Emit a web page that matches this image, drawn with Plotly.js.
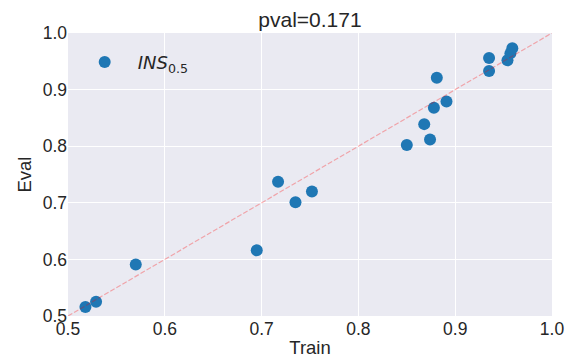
<!DOCTYPE html>
<html>
<head>
<meta charset="utf-8">
<script src="https://cdn.plot.ly/plotly-3.0.1.min.js"></script>
<style>html,body{margin:0;padding:0;background:#fff;}#chart{width:574px;height:358px;}</style>
</head>
<body>
<div id="chart"></div>
<script>
// Data
const trainScores = [0.518, 0.529, 0.570, 0.695, 0.717, 0.735, 0.752, 0.850, 0.868, 0.874, 0.878, 0.881, 0.891, 0.935, 0.935, 0.954, 0.957, 0.959];
const evalScores  = [0.516, 0.525, 0.591, 0.616, 0.737, 0.701, 0.720, 0.802, 0.839, 0.812, 0.868, 0.921, 0.879, 0.933, 0.956, 0.952, 0.964, 0.973];
const diagonal = [0.5, 1.0];
const tickValues = [0.5, 0.6, 0.7, 0.8, 0.9, 1.0];
const seriesName = '<i>INS</i><sub>0.5</sub>';
const chartTitle = 'pval=0.171';

const textColor = '#262626';
const points = {
  x: trainScores, y: evalScores, type: 'scatter', mode: 'markers', name: seriesName,
  marker: {color: '#1f77b4', size: 12, line: {width: 0}}
};
const idLine = {
  x: diagonal, y: diagonal, type: 'scatter', mode: 'lines', showlegend: false, hoverinfo: 'skip',
  line: {color: 'rgba(255,0,0,0.3)', width: 1.2, dash: '5px,2px'}
};
const axisCommon = {
  range: [0.5, 1.0], tickvals: tickValues, tickformat: '.1f',
  showgrid: true, gridcolor: '#ffffff', gridwidth: 1, zeroline: false, showline: false,
  ticks: '', tickfont: {family: 'Liberation Sans, Arial, sans-serif', size: 17.5, color: textColor}
};
const layout = {
  width: 574, height: 358,
  margin: {l: 68, r: 22, t: 33, b: 42},
  paper_bgcolor: '#ffffff', plot_bgcolor: '#eaeaf2',
  title: {text: chartTitle, font: {family: 'Liberation Sans, Arial, sans-serif', size: 21, color: textColor},
          x: 0.54, xref: 'container', y: 0.945, yref: 'container', yanchor: 'middle'},
  xaxis: Object.assign({}, axisCommon, {title: {text: 'Train', standoff: 4, font: {family: 'Liberation Sans, Arial, sans-serif', size: 18.5, color: textColor}}}),
  yaxis: Object.assign({}, axisCommon, {title: {text: 'Eval', standoff: 6, font: {family: 'Liberation Sans, Arial, sans-serif', size: 18.5, color: textColor}}}),
  showlegend: true,
  legend: {x: 0.0076, y: 0.962, xanchor: 'left', yanchor: 'top', bgcolor: 'rgba(0,0,0,0)', itemwidth: 56,
           font: {family: 'DejaVu Sans, sans-serif', size: 18, color: textColor}}
};
Plotly.newPlot('chart', [points, idLine], layout, {displayModeBar: false, staticPlot: true});
</script>
</body>
</html>
